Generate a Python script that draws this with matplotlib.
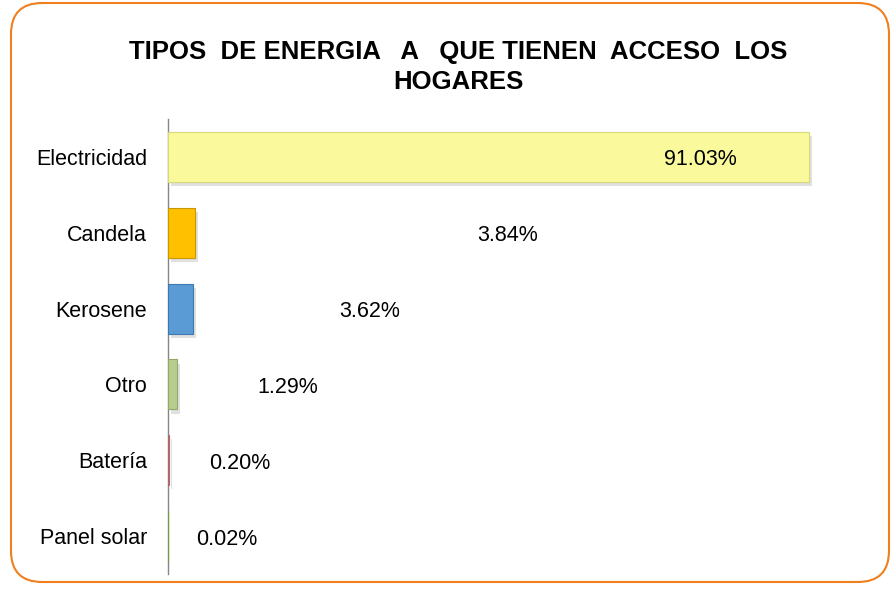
import matplotlib
matplotlib.use("Agg")
import matplotlib.pyplot as plt
from matplotlib.patches import FancyBboxPatch
import matplotlib.patheffects as pe

categories = ["Electricidad", "Candela", "Kerosene", "Otro", "Batería", "Panel solar"]
values = [91.03, 3.84, 3.62, 1.29, 0.20, 0.02]
value_labels = ["91.03%", "3.84%", "3.62%", "1.29%", "0.20%", "0.02%"]
label_x = [75.6, 48.2, 28.6, 17.0, 10.2, 8.4]
colors = ["#FAFA9C", "#FFC000", "#5B9BD5", "#B9CC8F", "#D99694", "#9BBB59"]
edge_colors = ["#D8D87A", "#C99700", "#3E78B0", "#93A96A", "#B06866", "#77973A"]
title = "TIPOS  DE ENERGIA   A   QUE TIENEN  ACCESO  LOS\nHOGARES"

plt.rcParams['font.family'] = ['Liberation Sans', 'DejaVu Sans']

fig = plt.figure(figsize=(8.91, 5.94), dpi=100)
W, H = 891, 594

# rounded orange border
border = FancyBboxPatch((11 / W, 12 / H), (878) / W, (579) / H,
                        boxstyle="round,pad=0,rounding_size=0.035",
                        transform=fig.transFigure, facecolor="none",
                        edgecolor="#F07F1E", linewidth=1.5, zorder=0,
                        mutation_aspect=W / H)
fig.patches.append(border)

ax = fig.add_axes([168 / W, 1 - 574 / H, 704 / W, 455 / H])
ax.set_facecolor("none")
ax.set_zorder(2)

ypos = list(range(len(categories)))
bars = ax.barh(ypos, values, height=0.66, color=colors, edgecolor=edge_colors,
               linewidth=0.8, zorder=3)
for b in bars:
    b.set_path_effects([pe.SimplePatchShadow(offset=(2, -3), shadow_rgbFace="#999999", alpha=0.3),
                        pe.Normal()])

for y, lx, lab in zip(ypos, label_x, value_labels):
    ax.text(lx, y + 0.04, lab, ha="center", va="center", fontsize=15.5, color="black", zorder=5)

ax.set_xlim(0, 100)
ax.set_ylim(len(categories) - 0.5, -0.5)
ax.set_yticks(ypos)
ax.set_yticklabels(categories, fontsize=15.5)
ax.tick_params(axis="y", length=0, pad=15)
ax.set_xticks([])
for s in ["top", "right", "bottom"]:
    ax.spines[s].set_visible(False)
ax.spines["left"].set_color("#868686")
ax.spines["left"].set_linewidth(1.0)

fig.text(458 / W, 1 - 67 / H, title, ha="center", va="center", fontsize=18.5,
         fontweight="bold", linespacing=1.3)

fig.savefig("out.png", dpi=100)
